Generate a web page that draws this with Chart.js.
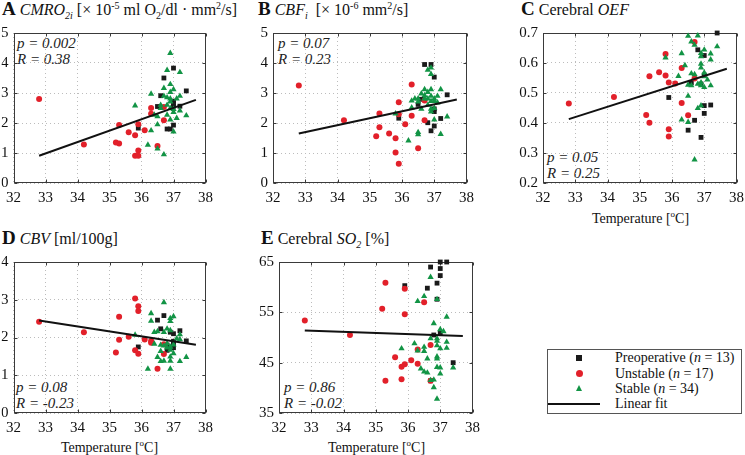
<!DOCTYPE html>
<html>
<head>
<meta charset="utf-8">
<script src="https://cdn.jsdelivr.net/npm/chart.js@4/dist/chart.umd.min.js"></script>
<style>
  body { margin: 0; width: 745px; height: 455px; background: #fff; position: relative; overflow: hidden;
         font-family: "Liberation Serif", "Times New Roman", serif; color: #111; }
  canvas { position: absolute; }
  .ttl { position: absolute; white-space: nowrap; font-size: 16px; line-height: 18px; }
  .ttl b { font-size: 19px; }
  .ttl sub, .ttl sup { font-size: 10px; line-height: 0; }
  .note { position: absolute; white-space: nowrap; font-style: italic; font-size: 15px; line-height: 16px; color: #222; }
  .xl { position: absolute; width: 195px; text-align: center; font-size: 14px; line-height: 16px; }
  .xl sup { font-size: 9px; line-height: 0; }
  #legend { position: absolute; left: 547px; top: 349px; width: 193px; height: 63px; border: 1px solid #555; font-size: 14px; }
  #legend .row { position: absolute; left: 67px; line-height: 15px; white-space: nowrap; }
  .sym { position: absolute; }
</style>
</head>
<body>

<div class="ttl" style="left:2px;top:0px"><b>A</b> <i>CMRO<sub>2i</sub></i> [× 10<sup>-5</sup> ml O<sub>2</sub>/dl · mm<sup>2</sup>/s]</div>
<div class="ttl" style="left:258px;top:0px"><b>B</b> <i>CBF<sub>i</sub></i> &nbsp;[× 10<sup>-6</sup> mm<sup>2</sup>/s]</div>
<div class="ttl" style="left:521px;top:0px"><b>C</b> Cerebral <i>OEF</i></div>
<div class="ttl" style="left:2px;top:229px"><b>D</b> <i>CBV</i> [ml/100g]</div>
<div class="ttl" style="left:261px;top:229px"><b>E</b> Cerebral <i>SO<sub>2</sub></i> [%]</div>

<div class="note" style="left:17px;top:35px">p = 0.002<br>R = 0.38</div>
<div class="note" style="left:278px;top:35px">p = 0.07<br>R = 0.23</div>
<div class="note" style="left:547px;top:149px">p = 0.05<br>R = 0.25</div>
<div class="note" style="left:16px;top:379px">p = 0.08<br>R = -0.23</div>
<div class="note" style="left:284px;top:379px">p = 0.86<br>R = -0.02</div>

<div class="xl" style="left:543px;top:211px">Temperature [<sup>o</sup>C]</div>
<div class="xl" style="left:12px;top:440px">Temperature [<sup>o</sup>C]</div>
<div class="xl" style="left:279px;top:440px">Temperature [<sup>o</sup>C]</div>

<div id="legend">
  <div class="sym" style="left:28px;top:5px;width:6px;height:6px;background:#1a1a1a"></div>
  <div class="sym" style="left:28px;top:20px;width:7px;height:7px;border-radius:50%;background:#e2202a"></div>
  <div class="sym" style="left:28px;top:35px;width:0;height:0;border-left:3.5px solid transparent;border-right:3.5px solid transparent;border-bottom:6px solid #129445"></div>
  <div class="sym" style="left:0px;top:53px;width:52px;height:2px;background:#111"></div>
  <div class="row" style="top:0px">Preoperative (<i>n</i> = 13)</div>
  <div class="row" style="top:16px">Unstable (<i>n</i> = 17)</div>
  <div class="row" style="top:31px">Stable (<i>n</i> = 34)</div>
  <div class="row" style="top:46px">Linear fit</div>
</div>

<script>
// temperature axis, shared by all panels
const xTicks = [32, 33, 34, 35, 36, 37, 38];

// A  CMRO2i
const aTicks = [0, 1, 2, 3, 4, 5];
const aPre = [[35.9,1.83],[36.5,2.55],[36.6,2.91],[36.7,3.50],[36.8,1.80],[36.9,1.80],[37.0,3.83],
  [37.0,2.73],[37.0,1.93],[37.0,2.56],[37.2,2.56],[37.4,3.07],[37.0,2.65]];
const aUns = [[32.8,2.80],[34.2,1.28],[35.2,1.35],[35.3,1.32],[35.3,1.93],[35.6,1.69],[35.8,1.59],
  [35.8,0.91],[35.9,1.08],[35.9,0.91],[35.9,1.96],[36.1,1.76],[36.3,2.50],[36.3,2.31],[36.5,1.23],
  [36.7,2.09],[36.7,2.53]];
const aSta = [[35.8,2.58],[36.3,2.97],[36.3,1.75],[36.2,1.27],[36.5,1.14],[36.5,1.95],[36.5,2.22],
  [36.6,2.49],[36.7,0.95],[36.7,3.16],[36.8,3.76],[36.8,2.85],[36.9,4.33],[36.9,3.29],[36.9,2.81],
  [36.9,2.71],[36.9,2.11],[37.0,3.12],[37.0,2.36],[37.0,1.71],[37.0,2.46],[37.2,3.69],[37.2,2.90],
  [37.2,2.41],[37.4,2.25],[36.7,2.90],[36.8,2.60],[36.9,2.49],[36.6,2.60],[37.1,2.81],[36.9,3.03],
  [36.4,2.27],[36.8,2.27],[37.1,2.16]];
const aFit = [[32.8,0.91],[37.7,2.77]];

// B  CBFi
const bTicks = [0, 1, 2, 3, 4, 5];
const bPre = [[35.9,2.16],[36.5,2.62],[36.6,2.79],[36.7,3.95],[36.9,3.95],[37.0,3.53],[36.8,2.01],
  [36.9,1.74],[37.0,1.90],[37.0,2.38],[37.0,2.47],[37.2,2.15],[37.4,2.94]];
const bUns = [[32.8,3.25],[34.2,2.09],[35.2,1.56],[35.3,1.86],[35.3,2.32],[35.6,1.65],[35.8,1.49],
  [35.8,1.02],[35.9,0.64],[35.9,2.69],[35.9,2.29],[36.1,1.96],[36.3,3.28],[36.3,2.24],[36.5,1.16],
  [36.7,2.09],[36.7,2.75]];
const bSta = [[35.8,2.31],[36.2,1.41],[36.3,2.74],[36.3,2.51],[36.5,1.69],[36.5,1.62],[36.5,2.81],
  [36.6,2.47],[36.6,2.98],[36.7,3.12],[36.8,3.77],[36.8,3.03],[36.8,2.81],[36.9,3.84],[36.9,3.63],
  [36.9,3.12],[36.9,2.90],[36.9,2.47],[36.9,2.38],[37.0,2.81],[37.0,2.73],[37.0,2.11],[37.2,3.12],
  [37.2,1.63],[37.4,2.21],[36.7,2.81],[36.4,2.81],[36.7,2.92],[36.9,2.73],[37.1,2.90],[37.0,2.49],
  [36.8,2.60],[36.5,2.71],[37.1,2.68]];
const bFit = [[32.8,1.65],[37.7,2.78]];

// C  cerebral OEF
const cTicks = [0.2, 0.3, 0.4, 0.5, 0.6, 0.7];
const cPre = [[35.9,0.485],[36.5,0.376],[36.6,0.534],[36.7,0.409],[36.8,0.644],[36.9,0.352],
  [37.0,0.625],[37.0,0.458],[37.0,0.432],[37.2,0.460],[37.4,0.700],[36.9,0.530],[37.0,0.560]];
const cUns = [[32.8,0.465],[34.2,0.487],[35.2,0.427],[35.3,0.401],[35.3,0.556],[35.6,0.569],
  [35.8,0.558],[35.8,0.630],[35.9,0.535],[35.9,0.379],[35.9,0.355],[36.1,0.532],[36.3,0.583],
  [36.3,0.467],[36.5,0.426],[36.7,0.670],[36.7,0.548]];
const cSta = [[35.8,0.618],[36.3,0.632],[36.3,0.411],[36.4,0.592],[36.5,0.527],[36.5,0.490],
  [36.5,0.403],[36.2,0.556],[36.5,0.690],[36.6,0.671],[36.6,0.565],[36.7,0.660],[36.7,0.278],
  [36.8,0.691],[36.8,0.449],[36.9,0.633],[36.9,0.622],[36.9,0.597],[36.9,0.584],[36.9,0.535],
  [36.9,0.525],[36.9,0.458],[37.0,0.644],[37.0,0.568],[37.0,0.519],[37.0,0.555],[37.2,0.631],
  [37.2,0.611],[37.2,0.525],[37.4,0.655],[36.8,0.530],[36.6,0.525],[36.7,0.562],[37.1,0.544]];
const cFit = [[32.8,0.413],[37.7,0.581]];

// D  CBV
const dTicks = [0, 1, 2, 3, 4];
const dPre = [[35.9,1.75],[36.5,2.46],[36.6,2.23],[36.7,2.58],[36.8,1.66],[37.0,2.10],[37.0,1.90],
  [37.0,1.73],[37.2,2.18],[37.4,1.91],[36.9,2.14],[36.8,1.80],[37.0,1.84]];
const dUns = [[32.8,2.42],[34.2,2.14],[35.2,1.60],[35.3,2.55],[35.3,1.94],[35.6,2.02],[35.8,3.03],
  [35.8,1.66],[35.9,2.83],[35.9,2.70],[35.9,1.57],[36.1,1.95],[36.3,1.91],[36.3,1.86],[36.5,1.17],
  [36.7,1.56],[36.7,1.82]];
const dSta = [[35.8,2.07],[36.2,1.17],[36.3,2.64],[36.3,2.44],[36.4,1.83],[36.5,1.48],[36.5,2.16],
  [36.6,1.64],[36.6,1.37],[36.7,2.93],[36.7,1.78],[36.7,1.38],[36.8,2.23],[36.8,1.84],[36.9,2.51],
  [36.9,2.43],[36.9,2.19],[36.9,1.75],[36.9,1.49],[36.9,1.38],[36.9,1.17],[37.0,2.56],[37.0,1.81],
  [37.0,1.58],[37.2,2.08],[37.2,1.37],[37.4,1.48],[36.4,2.14],[36.6,1.80],[36.8,1.73],[37.1,1.97],
  [36.7,2.14],[36.9,1.67],[37.2,1.95]];
const dFit = [[32.8,2.45],[37.7,1.81]];

// E  cerebral SO2
const eTicks = [35, 45, 55, 65];
const ePre = [[35.9,60.3],[36.6,59.8],[36.7,64.0],[36.9,60.8],[37.0,65.0],[37.0,63.7],[37.0,62.3],
  [37.2,65.0],[36.8,50.5],[37.0,50.9],[37.4,45.0],[36.7,41.4],[36.9,57.6]];
const eUns = [[32.8,53.4],[34.2,50.5],[35.2,55.7],[35.3,60.9],[35.3,41.4],[35.6,46.1],[35.8,44.2],
  [35.8,41.7],[35.9,44.7],[35.9,59.7],[35.9,54.6],[36.1,45.5],[36.3,44.8],[36.3,47.6],[36.5,57.0],
  [36.7,48.5],[36.7,41.4]];
const eSta = [[35.8,47.8],[36.3,57.2],[36.3,47.4],[36.2,48.8],[36.4,43.8],[36.5,58.2],[36.5,48.1],
  [36.5,47.3],[36.5,43.2],[36.6,45.8],[36.6,43.0],[36.7,62.0],[36.7,49.8],[36.8,52.8],[36.8,40.1],
  [36.9,57.6],[36.9,49.8],[36.9,49.3],[36.9,48.4],[36.9,46.2],[36.9,45.8],[36.9,44.1],[36.9,37.8],
  [37.0,51.6],[37.0,47.8],[37.0,44.0],[37.0,42.8],[37.2,54.1],[37.2,49.1],[37.2,47.9],[37.4,44.0],
  [36.8,41.6],[36.7,41.5],[37.1,51.2]];
const eFit = [[32.8,51.4],[37.7,50.3]];

const FONT = '"Liberation Serif", "Times New Roman", serif';
const RED = '#e2202a', GREEN = '#129445', BLACK = '#1a1a1a';

// box around the plot area with small inward ticks, like matlab's axes frame
const frame = {
  id: 'frame',
  beforeDatasetsDraw(chart) {
    const a = chart.chartArea, ctx = chart.ctx;
    const L = Math.round(a.left) + 0.5, T = Math.round(a.top) + 0.5;
    const R = Math.round(a.right) - 0.5, B = Math.round(a.bottom) - 0.5;
    const tl = 3;
    ctx.save();
    ctx.strokeStyle = '#3a3a3a';
    ctx.lineWidth = 1;
    ctx.strokeRect(L, T, R - L, B - T);
    ctx.beginPath();
    chart.scales.x.ticks.forEach((t) => {
      const px = Math.round(chart.scales.x.getPixelForValue(t.value)) + 0.5;
      ctx.moveTo(px, B); ctx.lineTo(px, B - tl);
      ctx.moveTo(px, T); ctx.lineTo(px, T + tl);
    });
    chart.scales.y.ticks.forEach((t) => {
      const py = Math.round(chart.scales.y.getPixelForValue(t.value)) + 0.5;
      ctx.moveTo(L, py); ctx.lineTo(L + tl, py);
      ctx.moveTo(R, py); ctx.lineTo(R - tl, py);
    });
    ctx.stroke();
    ctx.restore();
  }
};

const pts = (arr) => arr.map((p) => ({ x: p[0], y: p[1] }));

function panel(box, yTicks, pre, uns, sta, fit) {
  const pt = 10, pr = 12, xh = 26;
  const cv = document.createElement('canvas');
  cv.width = box.yw + box.w + pr;
  cv.height = pt + box.h + xh;
  cv.style.left = (box.l - box.yw) + 'px';
  cv.style.top = (box.t - pt) + 'px';
  document.body.appendChild(cv);

  const grid = { color: '#bcbcbc', lineWidth: 1, drawTicks: false };
  const border = { display: false, dash: [1, 3] };
  const ticks = { color: '#111', font: { family: FONT, size: 15 } };

  new Chart(cv, {
    type: 'scatter',
    data: {
      datasets: [
        { label: 'Linear fit', data: pts(fit), showLine: true, borderColor: '#111', borderWidth: 2,
          pointRadius: 0, order: 0, clip: false },
        { label: 'Stable', data: pts(sta), pointStyle: 'triangle', pointRadius: 3.6,
          backgroundColor: GREEN, borderWidth: 0, order: 1, clip: false },
        { label: 'Unstable', data: pts(uns), pointStyle: 'circle', pointRadius: 3,
          backgroundColor: RED, borderWidth: 0, order: 2, clip: false },
        { label: 'Preoperative', data: pts(pre), pointStyle: 'rect', pointRadius: 3.4,
          backgroundColor: BLACK, borderWidth: 0, order: 3, clip: false }
      ]
    },
    options: {
      responsive: false,
      animation: false,
      events: [],
      layout: { padding: { top: pt, right: pr, left: 0, bottom: 0 } },
      plugins: { legend: { display: false }, tooltip: { enabled: false } },
      scales: {
        x: {
          type: 'linear', min: xTicks[0], max: xTicks[xTicks.length - 1],
          afterBuildTicks: (s) => { s.ticks = xTicks.map((v) => ({ value: v })); },
          afterFit: (s) => { s.height = xh; },
          grid: grid, border: border,
          ticks: Object.assign({ padding: 6 }, ticks)
        },
        y: {
          type: 'linear', min: yTicks[0], max: yTicks[yTicks.length - 1],
          afterBuildTicks: (s) => { s.ticks = yTicks.map((v) => ({ value: v })); },
          afterFit: (s) => { s.width = box.yw; },
          grid: grid, border: border,
          ticks: Object.assign({ padding: 5 }, ticks)
        }
      }
    },
    plugins: [frame]
  });
}

panel({ l: 12, t: 29, w: 195, h: 154, yw: 12 }, aTicks, aPre, aUns, aSta, aFit);
panel({ l: 273, t: 29, w: 195, h: 154, yw: 30 }, bTicks, bPre, bUns, bSta, bFit);
panel({ l: 543, t: 29, w: 195, h: 154, yw: 40 }, cTicks, cPre, cUns, cSta, cFit);
panel({ l: 12, t: 258, w: 195, h: 155, yw: 12 }, dTicks, dPre, dUns, dSta, dFit);
panel({ l: 279, t: 258, w: 195, h: 155, yw: 30 }, eTicks, ePre, eUns, eSta, eFit);
</script>
</body>
</html>
